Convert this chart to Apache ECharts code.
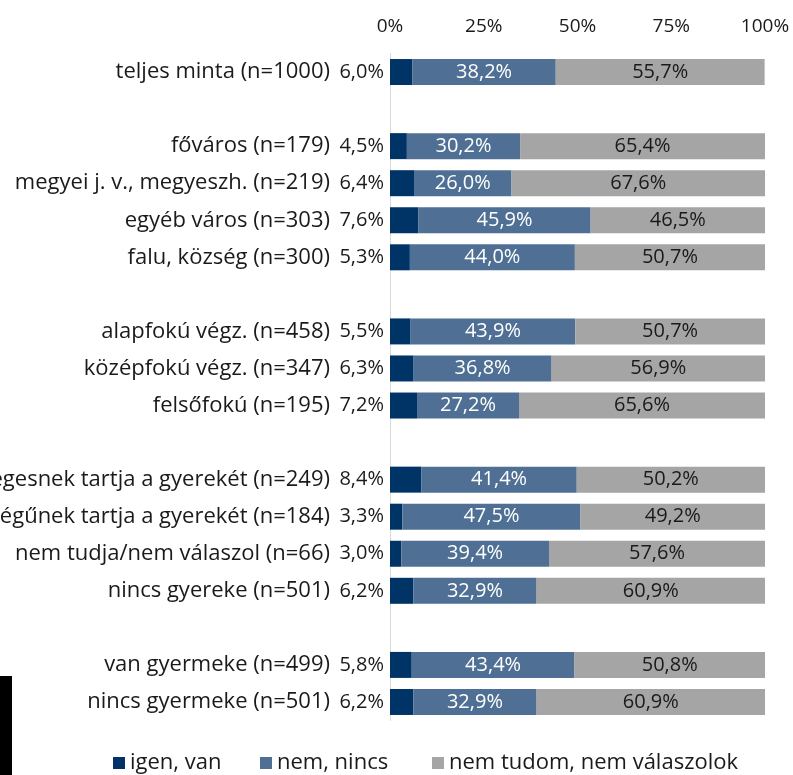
<!DOCTYPE html>
<html>
<head>
<meta charset="utf-8">
<script src="https://cdn.jsdelivr.net/npm/echarts@6/dist/echarts.min.js"></script>
<style>html,body{margin:0;padding:0;background:#fff;}#c{width:793px;height:775px;}</style>
</head>
<body>
<div id="c"></div>
<script>
var categories = [
  'teljes minta (n=1000)', '',
  'főváros (n=179)', 'megyei j. v., megyeszh. (n=219)', 'egyéb város (n=303)', 'falu, község (n=300)', ' ',
  'alapfokú végz. (n=458)', 'középfokú végz. (n=347)', 'felsőfokú (n=195)', '  ',
  'egészségesnek tartja a gyerekét (n=249)', 'rossz egészségűnek tartja a gyerekét (n=184)', 'nem tudja/nem válaszol (n=66)', 'nincs gyereke (n=501)', '   ',
  'van gyermeke (n=499)', 'nincs gyermeke (n=501)'
];
var igenVan = [6.0, null, 4.5, 6.4, 7.6, 5.3, null, 5.5, 6.3, 7.2, null, 8.4, 3.3, 3.0, 6.2, null, 5.8, 6.2];
var nemNincs = [38.2, null, 30.2, 26.0, 45.9, 44.0, null, 43.9, 36.8, 27.2, null, 41.4, 47.5, 39.4, 32.9, null, 43.4, 32.9];
var nemTudom = [55.7, null, 65.4, 67.6, 46.5, 50.7, null, 50.7, 56.9, 65.6, null, 50.2, 49.2, 57.6, 60.9, null, 50.8, 60.9];
var xTicks = [0, 25, 50, 75, 100];
var seriesNames = ['igen, van', 'nem, nincs', 'nem tudom, nem válaszolok'];
var colors = ['#003366', '#4f7094', '#a5a5a5'];

var FONT = 'Open Sans';
function fmt(v) { return v.toFixed(1).replace('.', ',') + '%'; }

var chart = echarts.init(document.getElementById('c'));
function legendFor(i, left) {
  return {
    data: [seriesNames[i]], left: left, top: 747, icon: 'rect', itemWidth: 12, itemHeight: 12, itemGap: 6,
    textStyle: { fontFamily: FONT, fontSize: 22, color: '#1a1a1a' }
  };
}
chart.setOption({
  animation: false,
  color: colors,
  textStyle: { fontFamily: FONT },
  legend: [legendFor(0, 108), legendFor(1, 255), legendFor(2, 427)],
  grid: { left: 390, right: 28, top: 53.5, height: 667, containLabel: false, outerBoundsMode: 'none' },
  xAxis: {
    type: 'value', position: 'top', min: 0, max: 100, interval: 25,
    axisLine: { show: false }, axisTick: { show: false }, splitLine: { show: false },
    axisLabel: { margin: 17, fontFamily: FONT, fontSize: 19, color: '#1a1a1a', formatter: function (v) { return xTicks.indexOf(v) >= 0 ? v + '%' : ''; } }
  },
  yAxis: {
    type: 'category', inverse: true, data: categories,
    axisLine: { show: true, lineStyle: { color: '#d9d9d9', width: 1 } },
    axisTick: { show: false },
    axisLabel: { margin: 60, fontFamily: FONT, fontSize: 22, color: '#1a1a1a' }
  },
  series: [
    { name: seriesNames[0], type: 'bar', stack: 's', data: igenVan, barWidth: 26,
      label: { show: true, position: 'left', distance: 6, fontFamily: FONT, fontSize: 20, color: '#1a1a1a', formatter: function (p) { return fmt(p.value); } } },
    { name: seriesNames[1], type: 'bar', stack: 's', data: nemNincs, barWidth: 26,
      label: { show: true, position: 'inside', fontFamily: FONT, fontSize: 20, color: '#ffffff', formatter: function (p) { return fmt(p.value); } } },
    { name: seriesNames[2], type: 'bar', stack: 's', data: nemTudom, barWidth: 26,
      label: { show: true, position: 'inside', fontFamily: FONT, fontSize: 20, color: '#1a1a1a', formatter: function (p) { return fmt(p.value); } } }
  ],
  graphic: [{ type: 'rect', shape: { x: 0, y: 676, width: 12, height: 99 }, style: { fill: '#000' } }]
});
</script>
</body>
</html>
